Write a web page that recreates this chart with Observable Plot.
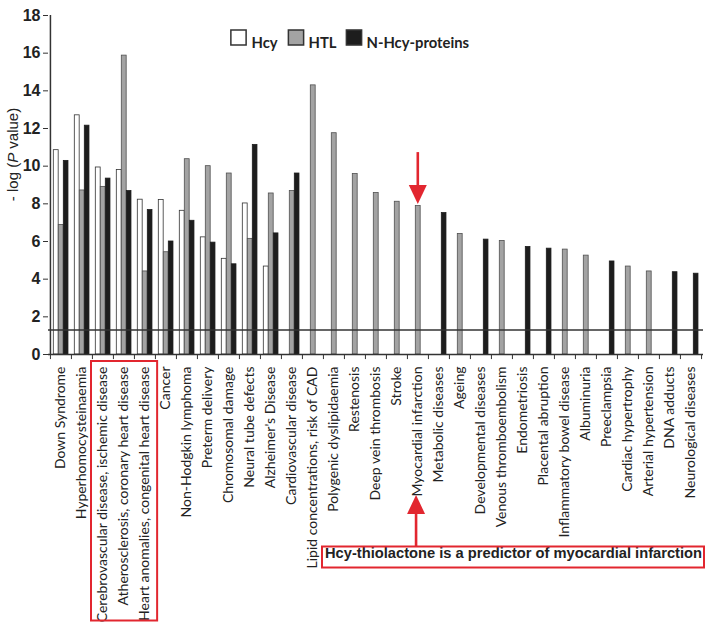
<!DOCTYPE html>
<html>
<head>
<meta charset="utf-8">
<script src="https://cdn.jsdelivr.net/npm/d3@7"></script>
<script src="https://cdn.jsdelivr.net/npm/@observablehq/plot@0.6"></script>
<style>
  html, body { margin: 0; padding: 0; background: #fff; }
  #chart svg { display: block; }
</style>
</head>
<body>
<div id="chart"></div>
<script>
const categories = [
  "Down Syndrome", "Hyperhomocysteinaemia", "Cerebrovascular disease, ischemic disease",
  "Atherosclerosis, coronary heart disease", "Heart anomalies, congenital heart disease",
  "Cancer", "Non-Hodgkin lymphoma", "Preterm delivery", "Chromosomal damage",
  "Neural tube defects", "Alzheimer's Disease", "Cardiovascular disease",
  "Lipid concentrations, risk of CAD", "Polygenic dyslipidaemia", "Restenosis",
  "Deep vein thrombosis", "Stroke", "Myocardial infarction", "Metabolic diseases",
  "Ageing", "Developmental diseases", "Venous thromboembolism", "Endometriosis",
  "Placental abruption", "Inflammatory bowel disease", "Albuminuria", "Preeclampsia",
  "Cardiac hypertrophy", "Arterial hypertension", "DNA adducts", "Neurological diseases"
];
const hcyValues = [10.85, 12.7, 9.93, 9.8, 8.22, 8.2, 7.63, 6.22, 5.08, 8.02, 4.67, null,
  null, null, null, null, null, null, null, null, null, null, null, null, null, null, null, null, null, null, null];
const htlValues = [6.88, 8.71, 8.9, 15.87, 4.41, 5.43, 10.37, 10.0, 9.61, 6.14, 8.55, 8.68,
  14.29, 11.75, 9.58, 8.57, 8.11, 7.88, null, 6.4, null, 6.03, null, null, 5.57, 5.25, null, 4.67, 4.41, null, null];
const nHcyValues = [10.28, 12.15, 9.34, 8.68, 7.67, 6.0, 7.1, 5.94, 4.79, 11.13, 6.43, 9.61,
  null, null, null, null, null, null, 7.51, null, 6.1, null, 5.71, 5.62, null, null, 4.94, null, null, 4.37, 4.29];
const seriesNames = ["Hcy", "HTL", "N-Hcy-proteins"];
const yTicks = [0, 2, 4, 6, 8, 10, 12, 14, 16, 18];
const threshold = 1.3;
const yLabelParts = ["- log (", "P", " value)"];
const noteText = "Hcy-thiolactone is a predictor of myocardial infarction";
const highlighted = ["Cerebrovascular disease, ischemic disease", "Heart anomalies, congenital heart disease"];
const noteCategory = "Myocardial infarction";

const W = 709, H = 622, mL = 48, mR = 6, mT = 15, mB = 268;
const bw = (W - mL - mR) / categories.length;
const fills = ["#ffffff", "#a3a3a3", "#1d1d1d"];
const strokes = ["#333333", "#505050", "#1d1d1d"];
const insets = [[3.3, bw - 8.3], [8.3, bw - 13.3], [13.3, bw - 18.1]];
const red = "#e2262f";

const rows = categories.map((c, i) => ({cat: c, v: [hcyValues[i], htlValues[i], nHcyValues[i]]}));

const barMarks = seriesNames.map((s, k) =>
  Plot.barY(rows.filter(d => d.v[k] != null), {
    x: "cat", y: d => d.v[k], fill: fills[k], stroke: strokes[k], strokeWidth: 0.8,
    insetLeft: insets[k][0], insetRight: insets[k][1]
  })
);

const legendSquareX = [238, 295.5, 353.5];
const legendTextX = [251, 308, 366];
const legendMarks = seriesNames.flatMap((s, k) => [
  Plot.dot([s], {frameAnchor: "top-left", symbol: "square", r: 8.6, fill: fills[k], stroke: "#333", strokeWidth: 1.5,
    dx: legendSquareX[k] - mL, dy: 22}),
  Plot.text([s], {frameAnchor: "top-left", text: d => d, textAnchor: "start", fontSize: 14.8, fontWeight: "bold",
    fontFamily: "Lato", fill: "#222", dx: legendTextX[k] - mL, dy: 22})
]);

const plot = Plot.plot({
  width: W, height: H, marginLeft: mL, marginRight: mR, marginTop: mT, marginBottom: mB,
  style: {fontFamily: "Lato", background: "#fff", color: "#222"},
  x: {type: "band", domain: categories, padding: 0, label: null},
  y: {domain: [0, 18], label: null},
  marks: [
    ...barMarks,
    Plot.ruleY([threshold], {stroke: "#333", strokeWidth: 1.5}),
    Plot.ruleY([0], {stroke: "#333", strokeWidth: 1.5}),
    Plot.ruleX([categories[0]], {y1: 0, y2: 18, dx: -bw / 2, stroke: "#333", strokeWidth: 1.5}),
    Plot.ruleX(categories, {y1: 0, y2: -0.27, dx: -bw / 2, stroke: "#333", strokeWidth: 1}),
    Plot.ruleX([categories[categories.length - 1]], {y1: 0, y2: -0.27, dx: bw / 2, stroke: "#333", strokeWidth: 1}),
    Plot.axisY({ticks: yTicks, tickSize: 5, tickPadding: 3, fontSize: 16, fontWeight: "bold",
      fontFamily: "Liberation Sans, Arial", label: null, stroke: "#333"}),
    Plot.axisX({tickSize: 0, tickRotate: -90, tickPadding: 12, fontSize: 14, fontFamily: "Lato", label: null}),
    ...legendMarks,
    Plot.text([noteText], {frameAnchor: "bottom", text: d => d, dx: 513 - (mL + (W - mL - mR) / 2), dy: 203,
      fontSize: 14.7, fontWeight: "bold", fontFamily: "Liberation Sans, Arial", fill: "#222"})
  ]
});

document.getElementById("chart").appendChild(plot);

const svg = d3.select(plot);
// y-axis title with italic P
const yt = svg.append("text")
  .attr("transform", `translate(13,${(mT + (H - mB)) / 2 - 30}) rotate(-90)`)
  .attr("text-anchor", "middle").attr("dy", "0.35em")
  .attr("font-family", "Liberation Sans, Arial").attr("font-size", 15).attr("fill", "#222");
yLabelParts.forEach((p, i) => yt.append("tspan").attr("font-style", i === 1 ? "italic" : null).text(p));

// annotations positioned through Plot's scales
const X = plot.scale("x"), Y = plot.scale("y");
const g = svg.append("g").attr("fill", "none").attr("stroke", red);
const bx1 = X.apply(highlighted[0]) - 1, bx2 = X.apply(highlighted[1]) + bw + 2;
g.append("rect").attr("x", bx1).attr("y", 361).attr("width", bx2 - bx1).attr("height", 259.5)
  .attr("stroke-width", 2);
g.append("rect").attr("x", 322).attr("y", 546.5).attr("width", 382).attr("height", 21)
  .attr("stroke-width", 2);

function arrow(cx, tipY, dir, shaft) {
  const head = 19, hw = 9;
  const baseY = tipY - dir * head;
  svg.append("line").attr("x1", cx).attr("x2", cx).attr("y1", baseY).attr("y2", baseY - dir * shaft)
    .attr("stroke", red).attr("stroke-width", 2.6);
  svg.append("path").attr("d", `M${cx},${tipY}L${cx - hw},${baseY}L${cx + hw},${baseY}Z`).attr("fill", red);
}
const miIndex = categories.indexOf(noteCategory);
const miX = X.apply(noteCategory);
arrow(miX + 10.8, Y.apply(htlValues[miIndex]) - 1.5, 1, 33);
arrow(miX + bw / 2 - 1.5, 495, -1, 33);
</script>
</body>
</html>
